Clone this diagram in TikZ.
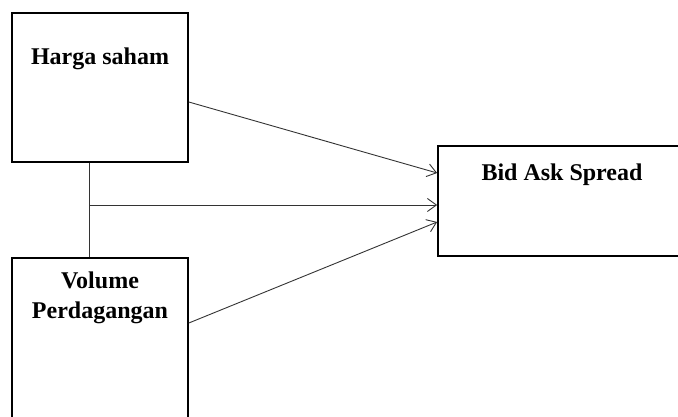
\documentclass[tikz,border=0pt]{standalone}
\usepackage{fontspec}
\setmainfont{Liberation Serif}
\usetikzlibrary{arrows.meta,positioning}

\begin{document}
\begin{tikzpicture}[x=1pt, y=-1pt, line join=miter]

	\tikzstyle{box}=[draw, line width=1.7pt, rectangle, inner sep=0pt]
	\tikzstyle{lbl}=[font=\fontsize{24}{30}\selectfont\bfseries, align=center]
	\tikzstyle{conn}=[line width=0.9pt, draw=black!80, -{Straight Barb[length=9pt,width=13pt]}]

    \useasboundingbox (0,0) rectangle (678,417);
    \clip (0,0) rectangle (678,417);

    \node [box, minimum width=176pt, minimum height=149pt] (harga) at (100,87.5) {};
    \node [box, minimum width=176pt, minimum height=182pt] (volume) at (100,349) {};
    \node [box, minimum width=282pt, minimum height=110pt] (bid) at (579,201) {};

    \node [lbl] (hargatxt) at (100,59) {Harga saham};
    \node [lbl] (volumetxt) at (100,298) {Volume\\Perdagangan};
    \node [lbl] (bidtxt) at (562,175) {Bid Ask Spread};

	\coordinate (junc) at (89,205);

	\draw [line width=0.9pt, draw=black!80] ([xshift=-11pt]harga.south) -- ([xshift=-11pt]volume.north);
	\draw [conn] ([yshift=-14.5pt]harga.east) -- ([yshift=28pt]bid.west);
	\draw [conn] (junc) -- ([yshift=-4pt]bid.west);
	\draw [conn] ([yshift=26pt]volume.east) -- ([yshift=-21pt]bid.west);

  \end{tikzpicture}
\end{document}
